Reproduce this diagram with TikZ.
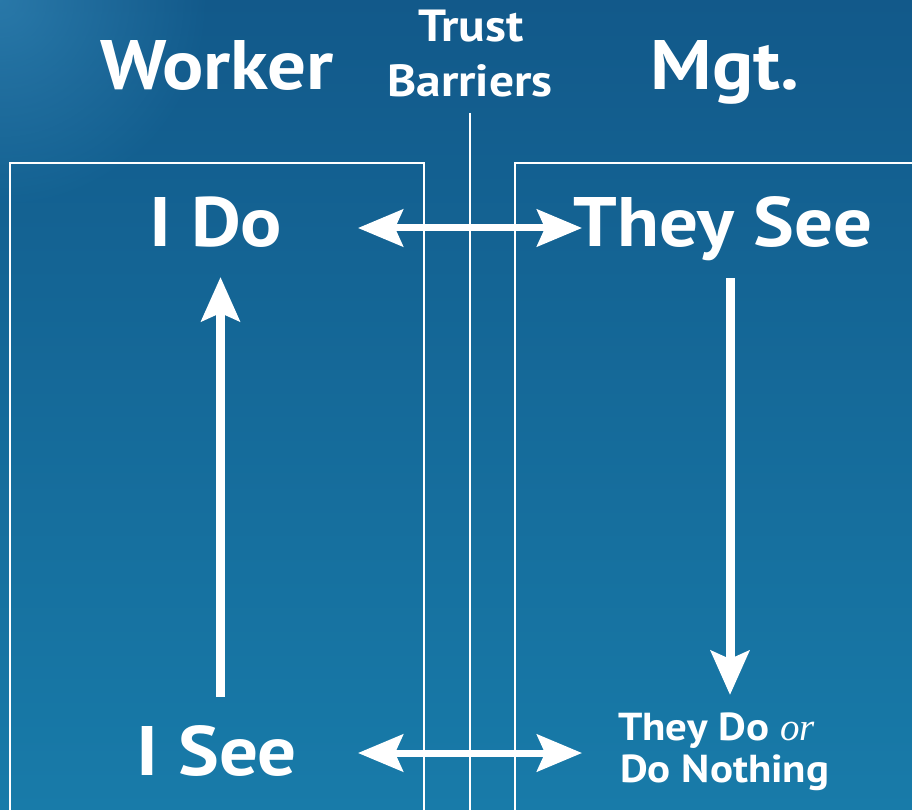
\documentclass[tikz,border=0pt]{standalone}
\usepackage{fontspec}
\setmainfont{PT Sans}[FakeStretch=1.1]
\newfontfamily\serifit{Liberation Serif}
\usetikzlibrary{arrows.meta,fadings}
\definecolor{bgtop}{HTML}{12598A}
\definecolor{bgbot}{HTML}{187BA9}
\definecolor{glowc}{HTML}{3C92C2}
\tikzfading[name=glowfade, inner color=transparent!45, outer color=transparent!100]
\tikzset{
  head/.style={text=white, font=\bfseries\fontsize{70}{70}\selectfont, anchor=base, inner sep=0pt},
  sub/.style={text=white, font=\bfseries\fontsize{45}{45}\selectfont, anchor=base, inner sep=0pt},
  small/.style={text=white, font=\bfseries\fontsize{39}{39}\selectfont, anchor=base west, inner sep=0pt},
  frame/.style={draw=white, line width=2pt},
  hflow/.style={white, line width=7pt, {Stealth[length=45pt,width=37pt,inset=8pt]}-{Stealth[length=45pt,width=37pt,inset=8pt]}},
  vflow/.style={white, line width=9pt, -{Stealth[length=44pt,width=38pt,inset=8pt]}}
}
\begin{document}
\begin{tikzpicture}[x=1pt,y=-1pt]
\useasboundingbox (0,0) rectangle (912,810);
% backdrop
\shade[top color=bgtop, bottom color=bgbot] (0,0) rectangle (912,810);
\fill[glowc, path fading=glowfade] (0,0) circle (210);
% panels and the barrier line
\draw[frame] (10,812) -- (10,163) -- (424,163) -- (424,812);
\draw[frame] (515,812) -- (515,163) -- (914,163);
\draw[frame] (470,113) -- (470,812);
% column titles
\node[head] (worker) at (217,90) {Worker};
\node[head] (mgt) at (725,90) {Mgt.};
\node[sub] (trust) at (471,42) {Trust};
\node[sub] (barriers) at (470,97) {Barriers};
% cycle labels
\node[head] (ido) at (216,247) {I Do};
\node[head] (theysee) at (723,247) {They See};
\node[head] (isee) at (217,775) {I See};
\node[small] (theydo) at (618,740) {They Do {\mdseries\serifit\itshape or}};
\node[small] (nothing) at (620,782) {Do Nothing};
% arrow end points
\coordinate (a1) at (358,228);
\coordinate (a2) at (582,228);
\coordinate (b1) at (358,753);
\coordinate (b2) at (582,753);
\coordinate (u1) at (220.5,697);
\coordinate (u2) at (220.5,277);
\coordinate (d1) at (730,278);
\coordinate (d2) at (730,695);
\draw[hflow] (a1) -- (a2);
\draw[hflow] (b1) -- (b2);
\draw[vflow] (u1) -- (u2);
\draw[vflow] (d1) -- (d2);
\end{tikzpicture}
\end{document}
